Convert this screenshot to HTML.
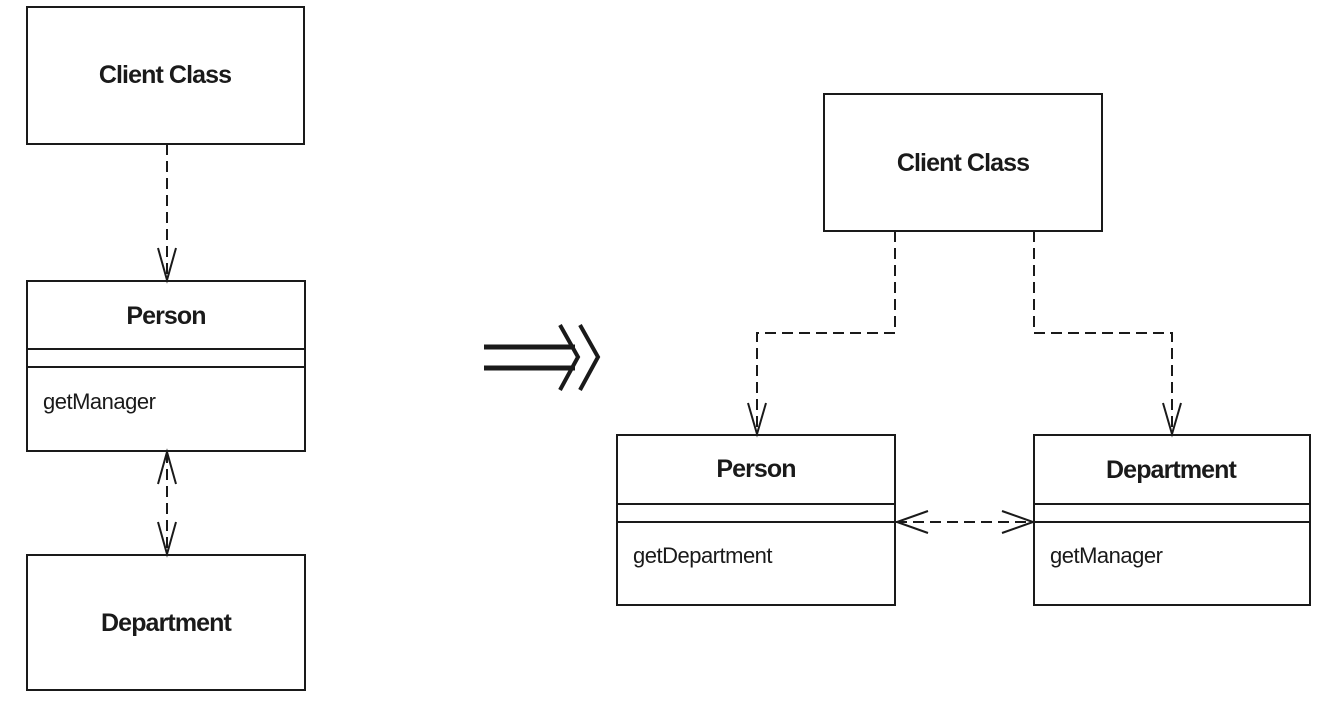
<!DOCTYPE html>
<html><head><meta charset="utf-8"><style>
html,body{margin:0;padding:0;background:#fff;}
svg{display:block;}
text{font-family:"Liberation Sans",Arial,sans-serif;fill:#1a1a1a;}
.t{font-weight:bold;font-size:25px;letter-spacing:-0.9px;}
.m{font-size:22px;letter-spacing:-0.5px;}
</style></head><body>
<svg width="1325" height="710" viewBox="0 0 1325 710" xmlns="http://www.w3.org/2000/svg">
<g fill="none" stroke="#1a1a1a" stroke-width="2">
<rect x="27" y="7" width="277" height="137"/>
<rect x="27" y="281" width="278" height="170"/>
<line x1="27" y1="349" x2="305" y2="349"/>
<line x1="27" y1="367" x2="305" y2="367"/>
<rect x="27" y="555" width="278" height="135"/>
<line x1="167" y1="144" x2="167" y2="280" stroke-dasharray="11,6"/>
<polyline points="158,248 167,280 176,248"/>
<line x1="167" y1="452" x2="167" y2="554" stroke-dasharray="11,6"/>
<polyline points="158,484 167,452 176,484"/>
<polyline points="158,522 167,554 176,522"/>
<line x1="484" y1="347" x2="575" y2="347" stroke-width="5"/>
<line x1="484" y1="368" x2="575" y2="368" stroke-width="5"/>
<polyline points="560,325 578,357 560,390" stroke-width="4"/>
<polyline points="580,325 598,357 580,390" stroke-width="4"/>
<rect x="824" y="94" width="278" height="137"/>
<rect x="617" y="435" width="278" height="170"/>
<line x1="617" y1="504" x2="895" y2="504"/>
<line x1="617" y1="522" x2="895" y2="522"/>
<rect x="1034" y="435" width="276" height="170"/>
<line x1="1034" y1="504" x2="1310" y2="504"/>
<line x1="1034" y1="522" x2="1310" y2="522"/>
<polyline points="895,231 895,333 757,333 757,434" stroke-dasharray="11,6"/>
<polyline points="748,403 757,434 766,403"/>
<polyline points="1034,231 1034,333 1172,333 1172,434" stroke-dasharray="11,6"/>
<polyline points="1163,403 1172,434 1181,403"/>
<line x1="896" y1="522" x2="1033" y2="522" stroke-dasharray="11,6"/>
<polyline points="928,511 897,522 928,533"/>
<polyline points="1002,511 1033,522 1002,533"/>
</g>
<text class="t" x="165" y="83" text-anchor="middle">Client Class</text>
<text class="t" x="166" y="324" text-anchor="middle">Person</text>
<text class="m" x="43" y="409">getManager</text>
<text class="t" x="166" y="631" text-anchor="middle">Department</text>
<text class="t" x="963" y="171" text-anchor="middle">Client Class</text>
<text class="t" x="756" y="477" text-anchor="middle">Person</text>
<text class="m" x="633" y="563">getDepartment</text>
<text class="t" x="1171" y="478" text-anchor="middle">Department</text>
<text class="m" x="1050" y="563">getManager</text>
</svg>
</body></html>
